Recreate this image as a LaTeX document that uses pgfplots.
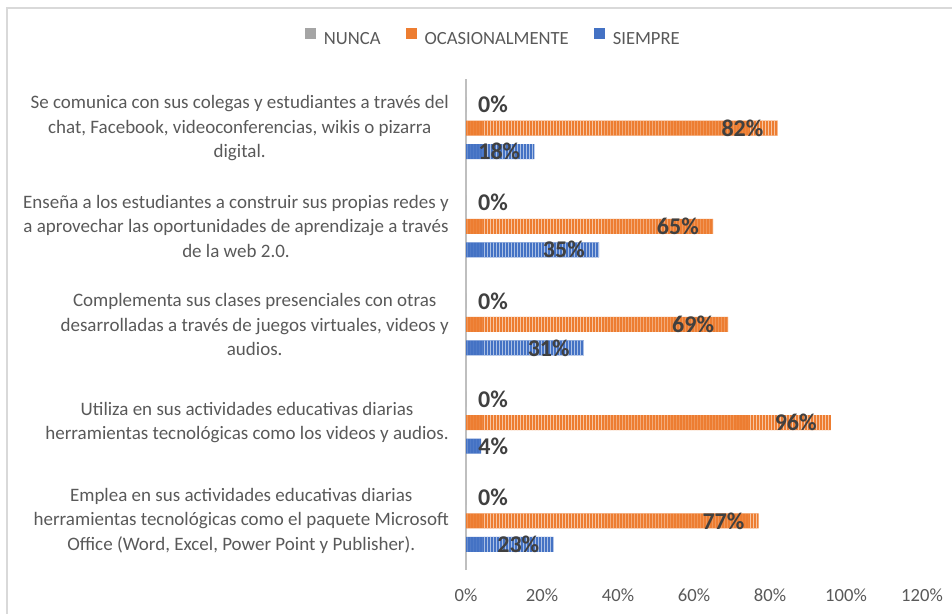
\documentclass[border=0pt]{standalone}
\usepackage{pgfplots}
\pgfplotsset{compat=1.18}
\usepackage{pgfplotstable}
\usetikzlibrary{patterns}
\usepackage{fontspec}
\setmainfont{Carlito}
\definecolor{cOr}{HTML}{ED7D31}
\definecolor{cBl}{HTML}{4472C4}
\definecolor{cGr}{HTML}{A5A5A5}
\definecolor{txt}{HTML}{595959}
\definecolor{lab}{HTML}{404040}
\definecolor{framec}{HTML}{D9D9D9}
\definecolor{axl}{HTML}{BFBFBF}

\pgfplotstableread{
y nunca ocas siempre
4 0 82 18
3 0 65 35
2 0 69 31
1 0 96 4
0 0 77 23
}\data

\begin{document}
\begin{tikzpicture}
\useasboundingbox (0,0) rectangle (952bp,614bp);
\draw[framec, line width=1.5bp] (7bp,0) -- (7bp,606bp) -- (952bp,606bp);
\begin{axis}[
  at={(466bp,44bp)}, anchor=south west,
  scale only axis, width=456bp, height=491bp,
  xmin=0, xmax=120, ymin=-0.5, ymax=4.5,
  xbar, bar width=15bp,
  axis lines=left,
  x axis line style={draw=none},
  y axis line style={draw=axl, line width=2.5bp, -},
  major tick length=0pt,
  xtick={0,20,...,120},
  xticklabels={0\%,20\%,40\%,60\%,80\%,100\%,120\%},
  xticklabel style={font=\fontsize{18.6bp}{22bp}\selectfont, text=txt, anchor=base, yshift=-31bp, inner sep=0pt},
  ytick={0,...,4},
  yticklabels={
    {Emplea en sus actividades educativas diarias\\herramientas tecnológicas como el paquete Microsoft\\Office (Word, Excel, Power Point y Publisher).},
    {Utiliza en sus actividades educativas diarias\\herramientas tecnológicas como los videos y audios.},
    {Complementa sus clases presenciales con otras\\desarrolladas a través de juegos virtuales, videos y\\audios.},
    {Enseña a los estudiantes a construir sus propias redes y\\a aprovechar las oportunidades de aprendizaje a través\\de la web 2.0.},
    {Se comunica con sus colegas y estudiantes a través del\\chat, Facebook, videoconferencias, wikis o pizarra\\digital.}
  },
  yticklabel style={font=\fontsize{19bp}{24.3bp}\selectfont, text=txt, align=center, anchor=east, inner sep=0pt, xshift=-17bp},
  point meta=explicit symbolic,
  nodes near coords={\pgfplotspointmeta\%},
  every node near coord/.append style={font=\bfseries\fontsize{24bp}{28bp}\selectfont, text=lab, inner sep=0pt},
  legend entries={NUNCA,OCASIONALMENTE,SIEMPRE},
  legend style={at={(0.06,1.0835)}, anchor=center, draw=none, fill=none,
    font=\fontsize{18.6bp}{22bp}\selectfont, text=txt, legend columns=-1,
    /tikz/every odd column/.append style={column sep=6bp},
    /tikz/every even column/.append style={column sep=23bp}},
  legend image code/.code={\fill[#1] (0bp,0bp) rectangle (11bp,11.5bp);},
]
\addlegendimage{fill=cGr, draw=none}
\addlegendimage{fill=cOr, draw=none}
\addlegendimage{fill=cBl, draw=none}
\addplot[draw=none, fill=cGr, postaction={pattern=vertical lines, pattern color=cGr!45!white},
  bar shift=23.5bp,
  every node near coord/.append style={anchor=west, xshift=12bp}]
  table[x=nunca, y=y, meta=nunca] {\data};
\addplot[draw=none, fill=cOr, postaction={pattern=vertical lines, pattern color=cOr!45!white},
  bar shift=0bp,
  every node near coord/.append style={anchor=east, xshift=-14bp}]
  table[x=ocas, y=y, meta=ocas] {\data};
\addplot[draw=none, fill=cBl, postaction={pattern=vertical lines, pattern color=cBl!45!white},
  bar shift=-23.5bp,
  visualization depends on={rawx \as \rx},
  every node near coord/.append style={anchor=east, xshift={ifthenelse(\rx<10,27,-14)*1bp}}]
  table[x=siempre, y=y, meta=siempre] {\data};
\end{axis}
\end{tikzpicture}
\end{document}
